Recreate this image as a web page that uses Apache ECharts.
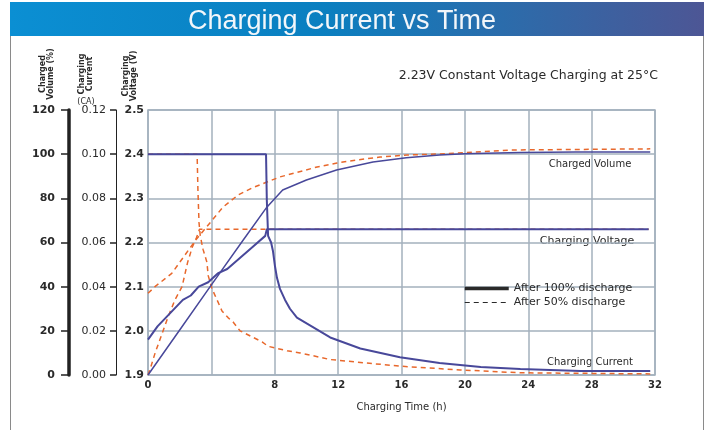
<!DOCTYPE html>
<html>
<head>
<meta charset="utf-8">
<script src="https://cdn.jsdelivr.net/npm/echarts@6/dist/echarts.min.js"></script>
<style>html,body{margin:0;padding:0;background:#fff}#c{width:708px;height:430px}</style>
</head>
<body>
<div id="c"></div>
<script>
// ---- Data ----
const xTicks = [0, 4, 8, 12, 16, 20, 24, 28, 32];
// After 100% discharge
const tV100 = [0, 0.6, 1.4, 2.2, 2.7, 3.2, 3.8, 4.4, 5.0, 5.8, 6.6, 7.4, 7.5, 31.6];
const vV100 = [1.98, 2.01, 2.04, 2.07, 2.08, 2.10, 2.11, 2.13, 2.14, 2.165, 2.19, 2.215, 2.23, 2.23];
const tI100 = [0, 7.45, 7.5, 7.58, 7.77, 7.89, 8.02, 8.14, 8.33, 8.65, 8.96, 9.4, 11.5, 13.4, 15.9, 18.4, 21, 23.5, 27.3, 31.7];
const vI100 = [0.1, 0.1, 0.079, 0.063, 0.060, 0.056, 0.049, 0.044, 0.039, 0.034, 0.030, 0.026, 0.017, 0.012, 0.008, 0.0054, 0.0036, 0.0027, 0.0018, 0.0018];
const tC100 = [0, 2, 4, 6, 7.5, 8.5, 10, 11.9, 14.2, 16.3, 18.4, 20, 23.5, 27, 31.7];
const vC100 = [0, 20.4, 40.8, 61, 76, 83.8, 88.3, 92.8, 96.5, 98.4, 99.6, 100.2, 100.7, 101, 101];
// After 50% discharge
const tV50 = [0, 0.15, 0.45, 0.75, 1.25, 1.7, 2.15, 2.5, 2.8, 3.05, 3.25, 31.6];
const vV50 = [1.90, 1.915, 1.95, 1.98, 2.03, 2.07, 2.10, 2.155, 2.19, 2.21, 2.23, 2.23];
const tI50 = [0, 3.1, 3.15, 3.22, 3.3, 3.47, 3.72, 3.8, 4.04, 4.36, 4.67, 5.05, 5.37, 5.81, 7.2, 7.58, 8.14, 8.78, 9.6, 11.5, 15.9, 19.7, 23.5, 31.7];
const vI50 = [0.1, 0.1, 0.084, 0.069, 0.063, 0.057, 0.051, 0.045, 0.039, 0.034, 0.029, 0.026, 0.024, 0.020, 0.015, 0.013, 0.012, 0.011, 0.010, 0.007, 0.004, 0.0023, 0.001, 0.0005];
const tC50 = [0, 0.44, 1.5, 3.0, 4.73, 5.68, 6.57, 7.51, 8.33, 9.28, 10.67, 11.93, 13.2, 14.65, 16.35, 18.4, 22.9, 31.7];
const vC50 = [37, 40, 46, 61, 76, 81.5, 84.7, 87.4, 89.7, 91.5, 94.2, 96, 97.4, 98.7, 99.6, 100.1, 101.9, 102.4];

const zip = (a, b) => a.map((t, i) => [t, b[i]]);
const BLUE = '#48489a', ORANGE = '#e8682c', GRID = '#a3b0bd', TXT = '#2a2a2a';
const F = 'DejaVu Sans';

const chart = echarts.init(document.getElementById('c'), null, {renderer: 'canvas'});
const blueLine = {color: BLUE, width: 2};
const orangeLine = {color: ORANGE, width: 1.5, type: [5, 4]};
const N100 = 'After 100% discharge', N50 = 'After 50% discharge';
const noSym = {color: 'rgba(0,0,0,0)', borderColor: 'rgba(0,0,0,0)', borderWidth: 0};

chart.setOption({
  animation: false,
  backgroundColor: '#fff',
  title: {
    text: 'Charging Current vs Time', left: 183, top: 3,
    textStyle: {color: '#f2f6fa', fontSize: 27, fontWeight: 'normal', fontFamily: 'Liberation Sans'}
  },
  graphic: [
    {type: 'rect', z: -10, shape: {x: 10, y: 2, width: 694, height: 34},
     style: {fill: new echarts.graphic.LinearGradient(0, 0, 1, 0, [
       {offset: 0, color: '#0b8fd3'}, {offset: 0.45, color: '#0a7fc0'},
       {offset: 0.75, color: '#3069a8'}, {offset: 1, color: '#4d5695'}])}},
    {type: 'line', shape: {x1: 10.5, y1: 36, x2: 10.5, y2: 430}, style: {stroke: '#8a8a8a', lineWidth: 1}},
    {type: 'line', shape: {x1: 703.5, y1: 36, x2: 703.5, y2: 430}, style: {stroke: '#8a8a8a', lineWidth: 1}},
    {type: 'text', x: 658, y: 76, style: {text: '2.23V Constant Voltage Charging at 25°C', font: '12.5px "DejaVu Sans"', fill: TXT, textAlign: 'right', textVerticalAlign: 'middle'}},
    {type: 'text', x: 590, y: 164, style: {text: 'Charged Volume', font: '10px "DejaVu Sans"', fill: TXT, textAlign: 'center', textVerticalAlign: 'middle'}},
    {type: 'text', x: 587, y: 241, style: {text: 'Charging Voltage', font: '11px "DejaVu Sans"', fill: TXT, textAlign: 'center', textVerticalAlign: 'middle'}},
    {type: 'text', x: 590, y: 362, style: {text: 'Charging Current', font: '10px "DejaVu Sans"', fill: TXT, textAlign: 'center', textVerticalAlign: 'middle'}},
    {type: 'text', x: 47, y: 74, rotation: Math.PI / 2, style: {text: 'Charged\nVolume (%)', font: 'bold 8px "DejaVu Sans"', fill: TXT, textAlign: 'center', textVerticalAlign: 'middle'}},
    {type: 'text', x: 86, y: 74, rotation: Math.PI / 2, style: {text: 'Charging\nCurrent', font: 'bold 8px "DejaVu Sans"', fill: TXT, textAlign: 'center', textVerticalAlign: 'middle'}},
    {type: 'text', x: 86, y: 102, style: {text: '(CA)', font: '8px "DejaVu Sans"', fill: TXT, textAlign: 'center', textVerticalAlign: 'middle'}},
    {type: 'text', x: 130, y: 76, rotation: Math.PI / 2, style: {text: 'Charging\nVoltage (V)', font: 'bold 8px "DejaVu Sans"', fill: TXT, textAlign: 'center', textVerticalAlign: 'middle'}}
  ],
  legend: {
    orient: 'vertical', left: 463, top: 283, padding: 0, itemWidth: 44, itemHeight: 10, itemGap: 3,
    selectedMode: false,
    textStyle: {color: TXT, fontSize: 11, fontFamily: F, padding: [0, 0, 0, 0]},
    data: [
      {name: N100, lineStyle: {color: '#2a2a2a', width: 3.5, type: 'solid'}, itemStyle: noSym},
      {name: N50, lineStyle: {color: '#2a2a2a', width: 1, type: [5, 4]}, itemStyle: noSym}
    ]
  },
  grid: {left: 148, right: 53, top: 110, bottom: 55, show: true, borderColor: GRID, borderWidth: 1.5},
  xAxis: {
    type: 'value', min: 0, max: 32, interval: 4,
    name: 'Charging Time (h)', nameLocation: 'middle', nameGap: 27,
    nameTextStyle: {color: TXT, fontSize: 10, fontFamily: F},
    axisLine: {show: false}, axisTick: {show: false},
    splitLine: {show: true, lineStyle: {color: GRID, width: 1.5}},
    axisLabel: {margin: 5, color: TXT, fontSize: 10, fontWeight: 'bold', fontFamily: F,
      formatter: v => (v === 4 ? '' : String(v))}
  },
  yAxis: [
    {type: 'value', position: 'left', offset: 0, min: 1.9, max: 2.5, interval: 0.1,
      axisLine: {show: false}, axisTick: {show: false},
      splitLine: {show: true, lineStyle: {color: GRID, width: 1.5}},
      axisLabel: {margin: 4, color: TXT, fontSize: 11, fontWeight: 'bold', fontFamily: F, formatter: v => v.toFixed(1)}},
    {type: 'value', position: 'left', offset: 32, min: 0, max: 0.12, interval: 0.02,
      axisLine: {show: true, lineStyle: {color: '#222', width: 1}},
      axisTick: {show: true, length: 6, lineStyle: {color: '#222', width: 1.5}},
      splitLine: {show: false},
      axisLabel: {margin: 10, color: TXT, fontSize: 11, fontFamily: F, formatter: v => v.toFixed(2)}},
    {type: 'value', position: 'left', offset: 79, min: 0, max: 120, interval: 20,
      axisLine: {show: true, lineStyle: {color: '#222', width: 3.5}},
      axisTick: {show: true, length: 8, lineStyle: {color: '#222', width: 1.5}},
      splitLine: {show: false},
      axisLabel: {margin: 14, color: TXT, fontSize: 11, fontWeight: 'bold', fontFamily: F}}
  ],
  series: [
    {name: N50, type: 'line', yAxisIndex: 0, data: zip(tV50, vV50), symbol: 'none', lineStyle: orangeLine, itemStyle: {color: ORANGE}},
    {name: N50, type: 'line', yAxisIndex: 1, data: zip(tI50, vI50), symbol: 'none', lineStyle: orangeLine, itemStyle: {color: ORANGE}},
    {name: N50, type: 'line', yAxisIndex: 2, data: zip(tC50, vC50), symbol: 'none', lineStyle: orangeLine, itemStyle: {color: ORANGE}},
    {name: N100, type: 'line', yAxisIndex: 0, data: zip(tV100, vV100), symbol: 'none', lineStyle: blueLine, itemStyle: {color: BLUE}},
    {name: N100, type: 'line', yAxisIndex: 1, data: zip(tI100, vI100), symbol: 'none', lineStyle: blueLine, itemStyle: {color: BLUE}},
    {name: N100, type: 'line', yAxisIndex: 2, data: zip(tC100, vC100), symbol: 'none', lineStyle: {color: BLUE, width: 1.5}, itemStyle: {color: BLUE}}
  ]
});
</script>
</body>
</html>
